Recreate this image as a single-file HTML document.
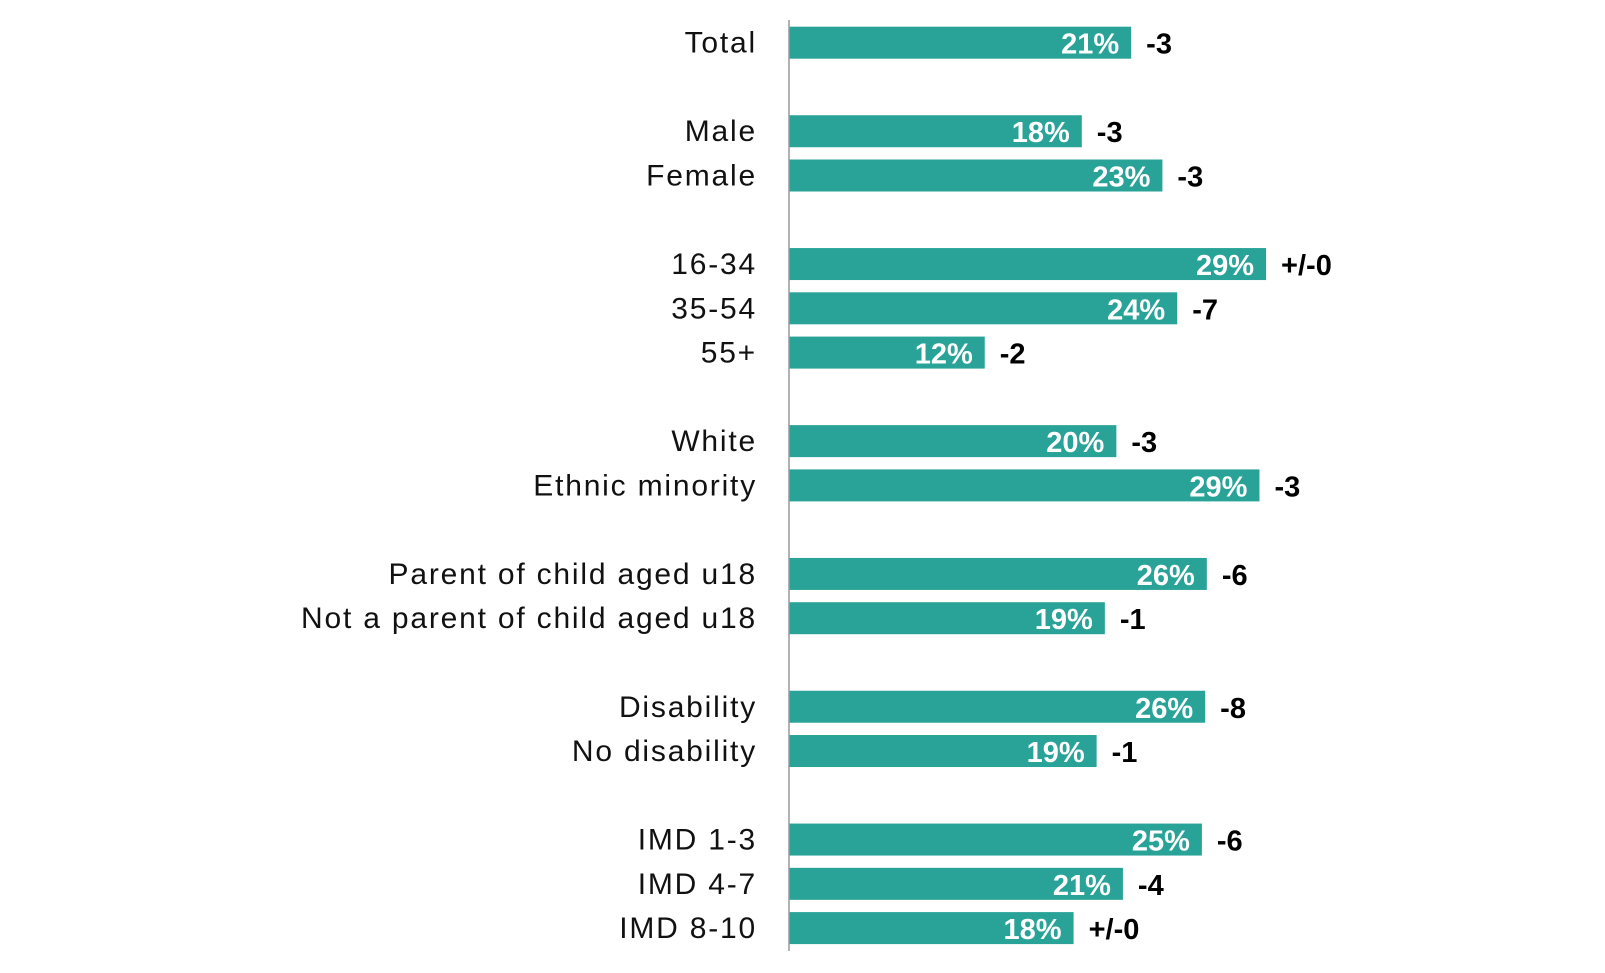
<!DOCTYPE html>
<html><head><meta charset="utf-8"><style>
body{margin:0;background:#fff;width:1605px;height:968px;overflow:hidden}
svg text{font-family:"Liberation Sans",sans-serif}
</style></head><body>
<svg id="chart" width="1605" height="968" xmlns="http://www.w3.org/2000/svg"></svg>
<script>
const categories=["Total","Male","Female","16-34","35-54","55+","White","Ethnic minority","Parent of child aged u18","Not a parent of child aged u18","Disability","No disability","IMD 1-3","IMD 4-7","IMD 8-10"];
const slots=[0,2,3,5,6,7,9,10,12,13,15,16,18,19,20];
const values=[20.8,17.8,22.7,29,23.6,11.9,19.9,28.6,25.4,19.2,25.3,18.7,25.1,20.3,17.3];
const valueLabels=["21%","18%","23%","29%","24%","12%","20%","29%","26%","19%","26%","19%","25%","21%","18%"];
const changes=["-3","-3","-3","+/-0","-7","-2","-3","-3","-6","-1","-8","-1","-6","-4","+/-0"];
const svg=document.getElementById('chart');
const NS="http://www.w3.org/2000/svg";
const x0=789,pxPer=16.45,y0=42.7,step=44.27,bh=32;
const xs=v=>x0+v*pxPer;
const ys=s=>y0+s*step;
function mk(tag,attrs,txt){const e=document.createElementNS(NS,tag);for(const k in attrs)e.setAttribute(k,attrs[k]);if(txt!==undefined)e.textContent=txt;svg.appendChild(e);return e;}
categories.forEach((c,i)=>{
  const cy=ys(slots[i]),xe=xs(values[i]);
  const r=mk('rect',{x:x0,y:cy-bh/2,width:xe-x0,height:bh,fill:'#29a398'});
  
  
  const t=mk('text',{x:757,y:cy+10,'text-anchor':'end','font-size':30,'letter-spacing':'1.8px',fill:'#111'},c);
  
  
  const v=mk('text',{x:xe-12,y:cy+11,'text-anchor':'end','font-size':29,'font-weight':'bold',fill:'#fff'},valueLabels[i]);
  
  
  const d=mk('text',{x:xe+15,y:cy+11,'font-size':29,'font-weight':'bold',fill:'#000'},changes[i]);
  
  
});
const ax=mk('line',{x1:x0,x2:x0,y1:20,y2:951,stroke:'#999','stroke-width':1.5});


</script>
</body></html>
